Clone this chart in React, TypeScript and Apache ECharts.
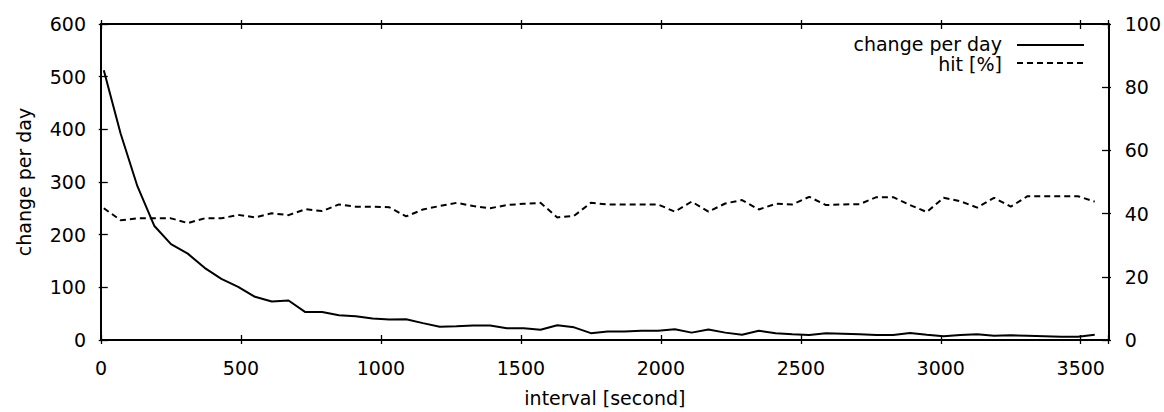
import React, { useEffect, useRef } from "react";
import * as echarts from "echarts";

const intervals = [
  10, 70, 130, 190, 250, 310, 370, 430, 490, 550,
  610, 670, 730, 790, 850, 910, 970, 1030, 1090, 1150,
  1210, 1270, 1330, 1390, 1450, 1510, 1570, 1630, 1690, 1750,
  1810, 1870, 1930, 1990, 2050, 2110, 2170, 2230, 2290, 2350,
  2410, 2470, 2530, 2590, 2650, 2710, 2770, 2830, 2890, 2950,
  3010, 3070, 3130, 3190, 3250, 3310, 3370, 3430, 3490, 3550,
];

const changePerDay = [
  512, 392, 292, 217, 182, 164, 137, 116, 101, 82,
  73, 75, 53, 53, 47, 45, 41, 39, 39.5, 32,
  25, 26, 27.5, 27.5, 22.5, 22.5, 19.5, 28, 24, 13,
  16, 16, 17.5, 17.5, 20.5, 14, 20, 14, 10, 17.5,
  13, 11, 9.5, 13, 12, 11, 9.5, 9.5, 13.5, 10,
  7, 9.5, 11, 8, 9, 8, 7, 6, 6, 10,
];

const hitPercent = [
  41.7, 37.9, 38.5, 38.5, 38.5, 37.0, 38.5, 38.5, 39.6, 38.8,
  40.1, 39.5, 41.4, 40.8, 42.9, 42.2, 42.2, 42.0, 39.1, 41.3,
  42.4, 43.4, 42.4, 41.7, 42.7, 43.1, 43.4, 38.8, 39.3, 43.4,
  42.9, 42.9, 42.9, 42.9, 40.6, 43.8, 40.6, 43.2, 44.3, 41.3,
  43.1, 42.9, 45.3, 42.7, 42.9, 43.0, 45.2, 45.2, 42.7, 40.5,
  45.0, 43.9, 41.9, 45.0, 42.2, 45.5, 45.5, 45.5, 45.5, 43.8,
];

const seriesNames = ["change per day", "hit [%]"];
const xAxisName = "interval [second]";
const yAxisName = "change per day";

const X_MIN = 0, X_MAX = 3600, X_STEP = 500;
const Y1_MIN = 0, Y1_MAX = 600, Y1_STEP = 100;
const Y2_MIN = 0, Y2_MAX = 100, Y2_STEP = 20;

const FONT = "'DejaVu Sans', 'Liberation Sans', Arial, sans-serif";
const FS = 19;
const LEGEND_FS = 19;

const GRID = { left: 101, right: 53, top: 24, bottom: 68 };
const PLOT_W = 1164 - GRID.left - GRID.right;
const PLOT_H = 412 - GRID.top - GRID.bottom;

export default function App() {
  const ref = useRef<HTMLDivElement>(null);
  useEffect(() => {
    if (!ref.current) return;
    const chart = echarts.init(ref.current, null, { renderer: "svg" });
    const axisLine = () => ({ show: true, onZero: false, lineStyle: { color: "#000", width: 2 } });
    const tick = () => ({ show: true, length: 9, lineStyle: { color: "#000", width: 1.3 } });
    const label = () => ({ color: "#000", fontSize: FS, fontFamily: FONT });
    const xScale = { type: "value", min: X_MIN, max: X_MAX, interval: X_STEP };
    const y1Scale = { type: "value", min: Y1_MIN, max: Y1_MAX, interval: Y1_STEP };
    const y2Scale = { type: "value", min: Y2_MIN, max: Y2_MAX, interval: Y2_STEP };
    // tick-only axes, offset into the plot so their ticks point inward
    const tickAxis = (position: string, offset: number, scale: any) => ({
      ...scale,
      position,
      offset,
      axisLine: { show: false, onZero: false },
      axisTick: tick(),
      axisLabel: { show: false },
      splitLine: { show: false },
    });
    chart.setOption({
      animation: false,
      backgroundColor: "#fff",
      grid: { ...GRID, containLabel: false },
      xAxis: [
        {
          ...xScale,
          position: "bottom",
          axisLine: axisLine(),
          axisTick: { show: false },
          splitLine: { show: false },
          axisLabel: { ...label(), margin: 18, showMaxLabel: false, formatter: (v: number) => String(v) },
          name: xAxisName,
          nameLocation: "middle",
          nameGap: 48,
          nameTextStyle: label(),
        },
        {
          ...xScale,
          position: "top",
          axisLine: axisLine(),
          axisTick: { show: false },
          splitLine: { show: false },
          axisLabel: { show: false },
        },
        tickAxis("top", -PLOT_H, xScale),
        tickAxis("bottom", -PLOT_H, xScale),
      ],
      yAxis: [
        {
          ...y1Scale,
          position: "left",
          axisLine: axisLine(),
          axisTick: { show: false },
          splitLine: { show: false },
          axisLabel: { ...label(), margin: 15, formatter: (v: number) => String(v) },
          name: yAxisName,
          nameLocation: "middle",
          nameGap: 68,
          nameRotate: 90,
          nameTextStyle: label(),
        },
        {
          ...y2Scale,
          position: "right",
          axisLine: axisLine(),
          axisTick: { show: false },
          splitLine: { show: false },
          axisLabel: { ...label(), margin: 16, formatter: (v: number) => String(v) },
        },
        tickAxis("right", -PLOT_W, y1Scale),
        tickAxis("left", -PLOT_W, y2Scale),
      ],
      series: [
        {
          name: seriesNames[0],
          type: "line",
          xAxisIndex: 0,
          yAxisIndex: 0,
          symbol: "none",
          data: intervals.map((x, i) => [x, changePerDay[i]]),
          lineStyle: { color: "#000", width: 2 },
        },
        {
          name: seriesNames[1],
          type: "line",
          xAxisIndex: 0,
          yAxisIndex: 1,
          symbol: "none",
          data: intervals.map((x, i) => [x, hitPercent[i]]),
          lineStyle: { color: "#000", width: 2, type: [6, 4] },
        },
      ],
      graphic: [
        {
          type: "text",
          x: 1002,
          y: 44,
          style: { text: seriesNames[0], fill: "#000", font: `${LEGEND_FS}px ${FONT}`, textAlign: "right", textVerticalAlign: "middle" },
        },
        {
          type: "line",
          shape: { x1: 1017, y1: 45, x2: 1084, y2: 45 },
          style: { stroke: "#000", lineWidth: 2 },
        },
        {
          type: "text",
          x: 1002,
          y: 64,
          style: { text: seriesNames[1], fill: "#000", font: `${LEGEND_FS}px ${FONT}`, textAlign: "right", textVerticalAlign: "middle" },
        },
        {
          type: "line",
          shape: { x1: 1017, y1: 63, x2: 1084, y2: 63 },
          style: { stroke: "#000", lineWidth: 2, lineDash: [6, 4] },
        },
      ],
    });
    return () => chart.dispose();
  }, []);
  return (
    <div
      ref={ref}
      style={{ position: "fixed", left: 0, top: 0, width: 1164, height: 412, background: "#fff" }}
    />
  );
}
